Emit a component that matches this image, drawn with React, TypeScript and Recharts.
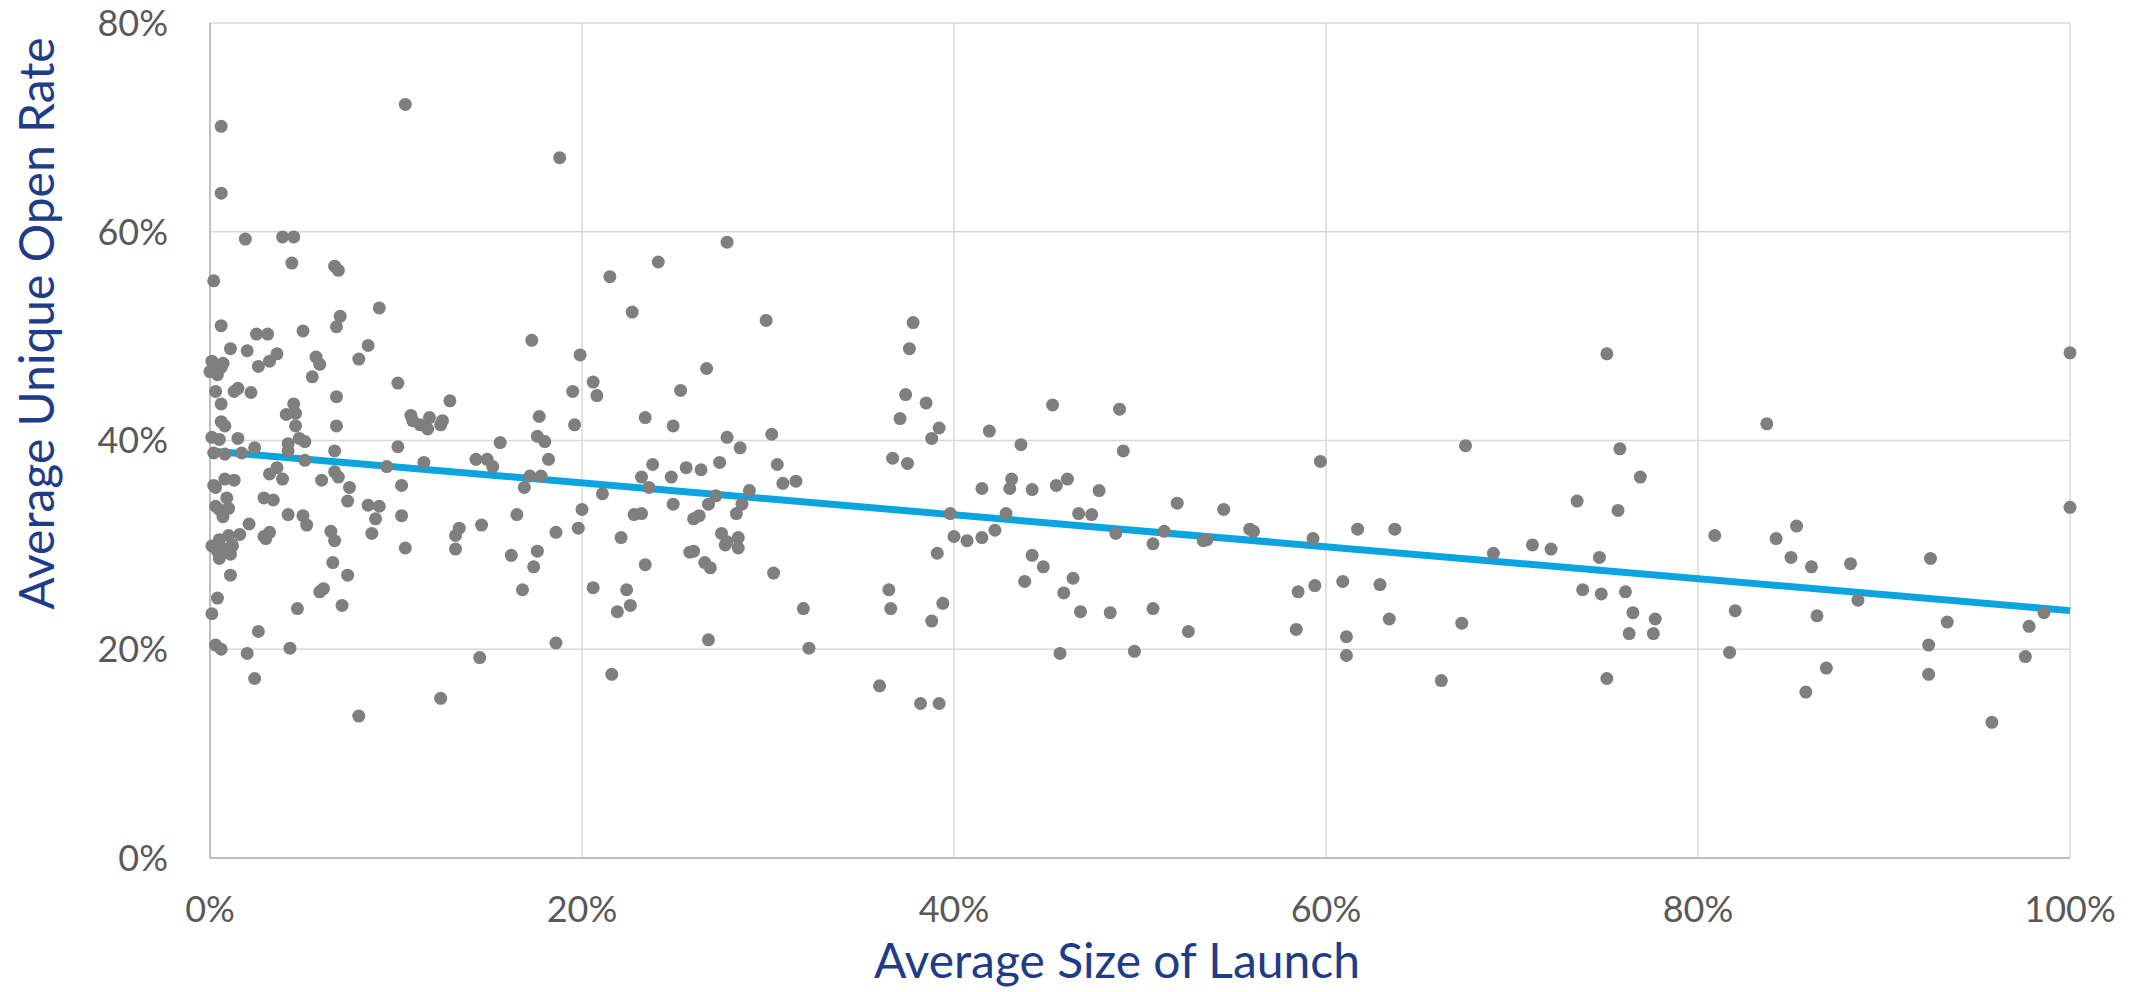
import {
  ScatterChart,
  Scatter,
  XAxis,
  YAxis,
  CartesianGrid,
  ReferenceLine,
} from "recharts";

// average size of launch (%), one entry per campaign
const launchSize = [
  10.5, 0.6, 0.6, 1.9, 3.9, 4.5, 4.4, 6.7, 6.9, 0.2, 9.1, 0.6, 2.5, 3.1, 5.0, 7.0, 6.8, 1.1, 2.0, 3.6,
  3.2, 2.6, 5.7, 5.9, 8.5, 8.0, 0.1, 0.7, 0.0, 0.4, 0.6, 5.5, 10.1, 0.3, 1.3, 1.5, 2.2, 6.8, 0.6, 4.5,
  12.9, 4.1, 4.6, 0.6, 0.8, 4.6, 6.8, 10.8, 10.9, 11.3, 11.8, 11.7, 12.4, 12.5, 0.1, 0.5, 1.5, 0.2, 0.8, 1.7,
  2.4, 4.2, 4.2, 4.8, 5.1, 5.1, 6.7, 10.1, 9.5, 11.5, 14.3, 14.9, 15.2, 15.6, 3.6, 3.2, 3.9, 6.7, 6.9, 6.0,
  7.5, 10.3, 0.2, 0.3, 0.8, 1.3, 0.9, 0.3, 0.5, 1.0, 0.7, 2.9, 3.4, 7.4, 8.5, 9.1, 8.9, 4.2, 5.0, 5.2,
  10.3, 2.1, 1.6, 2.9, 3.2, 3.0, 6.5, 6.7, 8.7, 10.5, 13.2, 13.4, 13.2, 14.6, 0.1, 0.5, 1.0, 0.4, 0.8, 1.2,
  0.5, 1.1, 1.2, 1.1, 6.6, 7.4, 0.4, 0.1, 5.9, 6.1, 4.7, 7.1, 2.6, 0.3, 0.6, 2.0, 4.3, 14.5, 2.4, 12.4,
  8.0, 18.8, 27.8, 24.1, 21.5, 22.7, 29.9, 17.3, 19.9, 26.7, 20.6, 19.5, 20.8, 25.3, 17.7, 23.4, 19.6, 24.9, 17.6, 18.0,
  18.2, 17.2, 17.8, 16.9, 16.5, 18.6, 19.8, 20.0, 21.1, 16.2, 17.6, 17.4, 16.8, 18.6, 20.6, 21.6, 22.1, 21.9, 22.4, 22.6,
  22.8, 23.2, 23.2, 23.6, 23.8, 23.4, 24.8, 24.9, 25.6, 26.4, 27.4, 27.8, 28.5, 30.2, 30.5, 30.8, 31.5, 29.0, 26.8, 27.2,
  28.6, 28.3, 26.0, 26.3, 27.5, 27.7, 27.8, 28.4, 28.4, 25.8, 26.0, 26.6, 26.9, 30.3, 31.9, 26.8, 37.8, 37.6, 37.4, 38.5,
  37.1, 39.2, 38.8, 36.7, 37.5, 32.2, 36.0, 36.5, 36.6, 38.2, 39.2, 39.1, 39.4, 38.8, 39.8, 40.0, 40.7, 41.5, 42.2, 41.5,
  41.9, 43.6, 43.0, 43.1, 44.2, 42.8, 45.3, 45.5, 46.1, 47.8, 46.7, 47.4, 48.9, 49.1, 48.7, 50.7, 44.2, 44.8, 43.8, 46.4,
  45.9, 46.8, 48.4, 50.7, 45.7, 49.7, 51.3, 52.0, 52.6, 53.4, 53.6, 54.5, 55.9, 56.1, 58.4, 58.5, 59.4, 59.3, 59.7, 60.9,
  61.1, 61.1, 61.7, 62.9, 63.4, 63.7, 66.2, 67.3, 67.5, 69.0, 75.1, 83.7, 100, 100, 75.8, 76.9, 73.5, 75.7, 71.1, 72.1,
  74.7, 73.8, 74.8, 76.1, 76.5, 77.7, 76.3, 77.6, 75.1, 80.9, 82.0, 81.7, 84.2, 85.3, 85.0, 86.1, 88.2, 88.6, 86.4, 86.9,
  85.8, 92.5, 93.4, 92.4, 92.4, 95.8, 97.8, 98.6, 97.6,
];

// average unique open rate (%), same order as launchSize
const openRate = [
  72.2, 70.1, 63.7, 59.3, 59.5, 59.5, 57.0, 56.7, 56.3, 55.3, 52.7, 51.0, 50.2, 50.2, 50.5, 51.9, 50.9, 48.8, 48.6, 48.3,
  47.6, 47.1, 48.0, 47.3, 49.1, 47.8, 47.6, 47.4, 46.6, 46.3, 47.0, 46.1, 45.5, 44.7, 44.7, 45.0, 44.6, 44.2, 43.5, 43.5,
  43.8, 42.5, 42.6, 41.8, 41.4, 41.4, 41.4, 42.4, 41.9, 41.5, 42.2, 41.1, 41.5, 41.9, 40.3, 40.1, 40.2, 38.8, 38.7, 38.8,
  39.3, 39.7, 39.0, 40.2, 39.9, 38.1, 39.0, 39.4, 37.5, 37.9, 38.2, 38.2, 37.5, 39.8, 37.4, 36.8, 36.3, 37.0, 36.5, 36.2,
  35.5, 35.7, 35.7, 35.5, 36.3, 36.2, 34.5, 33.7, 33.4, 33.5, 32.7, 34.5, 34.3, 34.2, 33.8, 33.7, 32.5, 32.9, 32.8, 31.9,
  32.8, 32.0, 31.0, 30.8, 31.2, 30.6, 31.3, 30.4, 31.1, 29.7, 30.9, 31.6, 29.6, 31.9, 29.9, 30.5, 30.9, 29.4, 29.6, 29.9,
  28.7, 29.1, 30.0, 27.1, 28.3, 27.1, 24.9, 23.4, 25.5, 25.8, 23.9, 24.2, 21.7, 20.4, 20.0, 19.6, 20.1, 19.2, 17.2, 15.3,
  13.6, 67.1, 59.0, 57.1, 55.7, 52.3, 51.5, 49.6, 48.2, 46.9, 45.6, 44.7, 44.3, 44.8, 42.3, 42.2, 41.5, 41.4, 40.4, 39.9,
  38.2, 36.6, 36.6, 35.5, 32.9, 31.2, 31.6, 33.4, 34.9, 29.0, 29.4, 27.9, 25.7, 20.6, 25.9, 17.6, 30.7, 23.6, 25.7, 24.2,
  32.9, 33.0, 36.5, 35.5, 37.7, 28.1, 36.5, 33.9, 37.4, 37.2, 37.9, 40.3, 39.3, 40.6, 37.7, 35.9, 36.1, 35.2, 33.9, 34.7,
  33.9, 33.0, 32.5, 32.8, 31.1, 30.0, 30.3, 30.7, 29.7, 29.3, 29.4, 28.3, 27.8, 27.3, 23.9, 20.9, 51.3, 48.8, 44.4, 43.6,
  42.1, 41.2, 40.2, 38.3, 37.8, 20.1, 16.5, 25.7, 23.9, 14.8, 14.8, 29.2, 24.4, 22.7, 33.0, 30.8, 30.4, 30.7, 31.4, 35.4,
  40.9, 39.6, 35.4, 36.3, 35.3, 33.0, 43.4, 35.7, 36.3, 35.2, 33.0, 32.9, 43.0, 39.0, 31.1, 30.1, 29.0, 27.9, 26.5, 26.8,
  25.4, 23.6, 23.5, 23.9, 19.6, 19.8, 31.3, 34.0, 21.7, 30.4, 30.5, 33.4, 31.5, 31.3, 21.9, 25.5, 26.1, 30.6, 38.0, 26.5,
  21.2, 19.4, 31.5, 26.2, 22.9, 31.5, 17.0, 22.5, 39.5, 29.2, 48.3, 41.6, 48.4, 33.6, 39.2, 36.5, 34.2, 33.3, 30.0, 29.6,
  28.8, 25.7, 25.3, 25.5, 23.5, 22.9, 21.5, 21.5, 17.2, 30.9, 23.7, 19.7, 30.6, 31.8, 28.8, 27.9, 28.2, 24.7, 23.2, 18.2,
  15.9, 28.7, 22.6, 20.4, 17.6, 13.0, 22.2, 23.5, 19.3,
];

// linear trend line end points
const trendX = [0, 100];
const trendY = [39.0, 23.7];

const xTicks = [0, 20, 40, 60, 80, 100];
const yTicks = [0, 20, 40, 60, 80];

const points = launchSize.map((x, i) => ({ x, y: openRate[i] }));

const FONT = "Lato, 'Open Sans', sans-serif";
const TICK = { fill: "#595959", fontSize: 36, fontFamily: FONT };
const TITLE_COLOR = "#1f3c88";

const Dot = (props: any) => (
  <circle cx={props.cx} cy={props.cy} r={6.5} fill="#7f7f7f" />
);

export default function App() {
  return (
    <div style={{ position: "absolute", left: 0, top: 0, background: "#fff" }}>
      <ScatterChart
        width={2136}
        height={992}
        margin={{ top: 23, right: 66, left: 0, bottom: 0 }}
      >
        <CartesianGrid stroke="#d9d9d9" strokeWidth={1.5} />
        <XAxis
          type="number"
          dataKey="x"
          domain={[0, 100]}
          ticks={xTicks}
          tickFormatter={(v) => `${v}%`}
          height={134}
          tick={TICK}
          tickLine={false}
          tickMargin={32}
          axisLine={{ stroke: "#bfbfbf", strokeWidth: 2 }}
          label={{
            value: "Average Size of Launch",
            position: "insideBottom",
            offset: 14,
            dx: -23,
            fill: TITLE_COLOR,
            fontSize: 48,
            fontFamily: FONT,
          }}
        />
        <YAxis
          type="number"
          dataKey="y"
          domain={[0, 80]}
          ticks={yTicks}
          tickFormatter={(v) => `${v}%`}
          width={210}
          tick={TICK}
          tickLine={false}
          tickMargin={36}
          axisLine={{ stroke: "#bfbfbf", strokeWidth: 2 }}
          label={{
            value: "Average Unique Open Rate",
            angle: -90,
            position: "insideLeft",
            offset: 37,
            dy: -117,
            fill: TITLE_COLOR,
            fontSize: 48,
            fontFamily: FONT,
            style: { textAnchor: "middle" },
          }}
        />
        <Scatter data={points} shape={Dot} isAnimationActive={false} />
        <ReferenceLine
          segment={[
            { x: trendX[0], y: trendY[0] },
            { x: trendX[1], y: trendY[1] },
          ]}
          stroke="#0aa5e0"
          strokeWidth={7}
        />
      </ScatterChart>
    </div>
  );
}
